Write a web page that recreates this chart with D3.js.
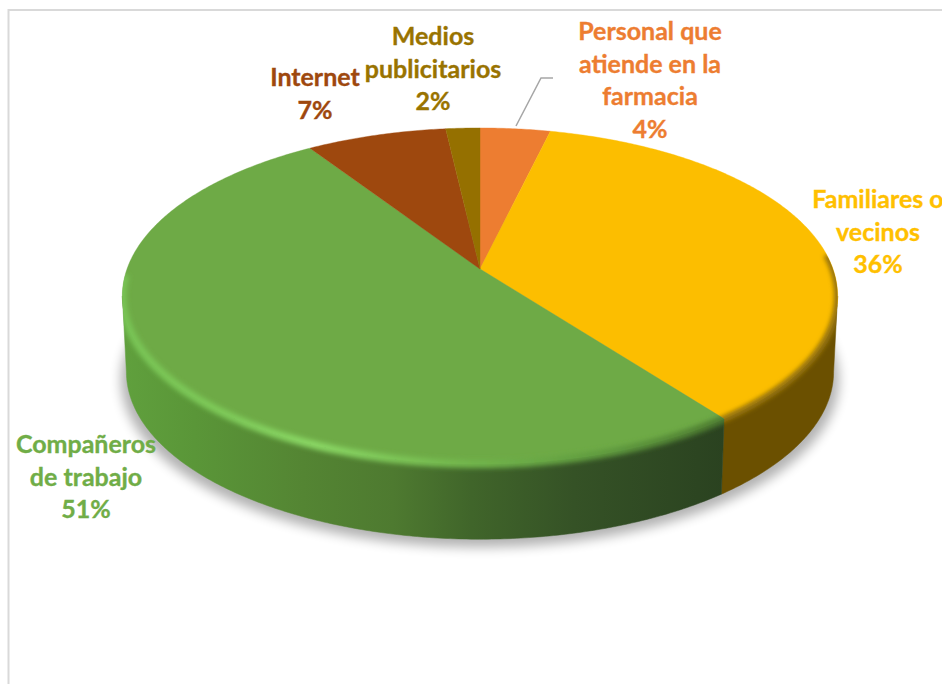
<!DOCTYPE html>
<html>
<head>
<meta charset="utf-8">
<script src="https://cdn.jsdelivr.net/npm/d3@7/dist/d3.min.js"></script>
<style>
html,body{margin:0;padding:0;background:#fff;overflow:hidden}
svg{display:block}
text{font-family:Lato,"Open Sans",sans-serif;font-weight:700}
</style>
</head>
<body>
<div id="chart"></div>
<script>
const categories = ["Personal que atiende en la farmacia","Familiares o vecinos","Compañeros de trabajo","Internet","Medios publicitarios"];
const values = [3.7,36.0,51.1,7.4,1.8];
const valueLabels = ["4%","36%","51%","7%","2%"];
const labelLines = [["Personal que","atiende en la","farmacia"],["Familiares o","vecinos"],["Compañeros","de trabajo"],["Internet"],["Medios","publicitarios"]];
const faceColors = ["#ed7d31","#fcbe00","#6eaa46","#9e480e","#957000"];
const textColors = ["#ed7d31","#ffc000","#70ad47","#9e480e","#997300"];
const sideColors = ["#8e4b1d","#6b5000","url(#sideGreen)","#5f2b08","#5a4400"];

const W=942,H=684;
const svg=d3.select("#chart").append("svg").attr("width",W).attr("height",H);
const defs=svg.append("defs");

// perspective projection of the pie disc
const k=0.1607;
const topDisc={cx:480,cy:269,A:353,B:163.7};
const botDisc={cx:480,cy:345,A:349,B:163};
const proj=(a,D)=>{const X=Math.sin(a),Y=Math.cos(a),w=1+k*Y;return [D.cx+D.A*X/w,D.cy-D.B*Y/w];};
const rim=(a0,a1,D)=>{const n=Math.max(2,Math.ceil((a1-a0)/0.01));return d3.range(n+1).map(i=>proj(a0+(a1-a0)*i/n,D));};
const line=d3.line();
const TAU=Math.PI*2;
// the wall is only seen between the two points where the rim is tangent to the vertical
const frontA0=Math.acos(-k), frontA1=TAU-Math.acos(-k);

const arcs=d3.pie().sort(null).value(d=>d)(values);
const facePath=d=>line([[topDisc.cx,topDisc.cy],...rim(d.startAngle,d.endAngle,topDisc)])+"Z";
const sidePath=d=>{
  const a0=Math.max(d.startAngle,frontA0),a1=Math.min(d.endAngle,frontA1);
  if(a1<=a0) return "";
  return line([...rim(a0,a1,topDisc),...rim(a0,a1,botDisc).reverse()])+"Z";
};

// filters & gradients
const blur=(id,s)=>defs.append("filter").attr("id",id).attr("x","-20%").attr("y","-20%").attr("width","140%").attr("height","140%")
  .append("feGaussianBlur").attr("stdDeviation",s);
blur("shadowBlur",6);blur("bevelG",2.6);blur("bevelY",2);
const grad=(id,stops)=>{const g=defs.append("linearGradient").attr("id",id).attr("gradientUnits","userSpaceOnUse")
  .attr("x1",122).attr("x2",725).attr("y1",0).attr("y2",0);
  stops.forEach(([o,c])=>g.append("stop").attr("offset",o).attr("stop-color",c));};
grad("sideGreen",[[0,"#60a03d"],[0.12,"#5a9638"],[0.3,"#548533"],[0.45,"#4e7a30"],[0.58,"#40652a"],[0.75,"#355226"],[1,"#2a4220"]]);
grad("bevelGreen",[[0,"#78c455"],[0.18,"#7fcb5a"],[0.32,"#8ad865"],[0.55,"#74b94e"],[0.8,"#5f9a3e"],[1,"#4c7a30"]]);

// frame
svg.append("path").attr("d",line([[8.5,684],[8.5,10],[942,10]])).attr("fill","none").attr("stroke","#d9d9d9").attr("stroke-width",2);

// shadow
svg.append("path").attr("d",line(rim(0,TAU,botDisc).map(([x,y])=>[x+(x-480)*0.015,y+8]))+"Z")
  .attr("fill","#000").attr("opacity",0.3).attr("filter","url(#shadowBlur)");

// sides
svg.append("g").selectAll("path").data(arcs).join("path").attr("d",sidePath)
  .attr("fill",(d,i)=>sideColors[i]).attr("stroke",(d,i)=>sideColors[i]).attr("stroke-width",0.5);

// top faces
svg.append("g").selectAll("path").data(arcs).join("path").attr("d",facePath)
  .attr("fill",(d,i)=>faceColors[i]).attr("stroke",(d,i)=>faceColors[i]).attr("stroke-width",0.4);

// bevels
arcs.forEach((d,i)=>{
  const c=defs.append("clipPath").attr("id","clip"+i);
  c.append("path").attr("d",facePath(d));
  c.append("path").attr("d",sidePath(d));
});
const deg=Math.PI/180;
const bevels=[
  {i:1,a0:85*deg,a1:arcs[1].endAngle+0.05,stroke:"#96730a",w:7,f:"url(#bevelY)"},
  {i:2,a0:arcs[2].startAngle-0.05,a1:268*deg,stroke:"url(#bevelGreen)",w:8,f:"url(#bevelG)"}
];
bevels.forEach(b=>{
  svg.append("g").attr("clip-path","url(#clip"+b.i+")")
    .append("path").attr("d",line(rim(b.a0,b.a1,topDisc))).attr("fill","none")
    .attr("stroke",b.stroke).attr("stroke-width",b.w).attr("filter",b.f);
});

// leader line
svg.append("path").attr("d",line([[516,126],[541,78],[553,78]])).attr("fill","none").attr("stroke","#a6a6a6").attr("stroke-width",1.5);

// labels
const labelAnchor=[[650,40],[878,208],[86,453],[315,86],[433,45]];
const lineGap=32.5;
const labels=svg.append("g").attr("font-size",25).attr("text-anchor","middle");
categories.forEach((cat,i)=>{
  const t=labels.append("text").attr("fill",textColors[i]).attr("stroke",textColors[i]).attr("stroke-width",0.35);
  [...labelLines[i],valueLabels[i]].forEach((s,j)=>{
    t.append("tspan").attr("x",labelAnchor[i][0]).attr("y",labelAnchor[i][1]+j*lineGap).text(s);
  });
});
</script>
</body>
</html>
